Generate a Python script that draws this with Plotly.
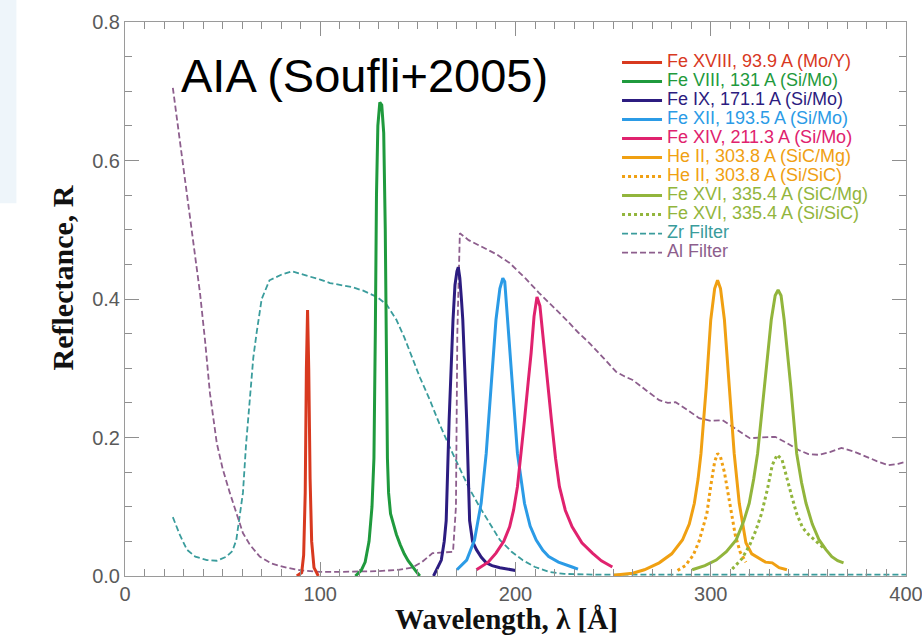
import plotly.graph_objects as go

# Multilayer mirror reflectance and filter transmission for the AIA channels
fe18_wl = [88, 90.5, 91.5, 92.3, 92.9, 93.5, 94.1, 94.8, 95.6, 96.8, 99]
fe18_r = [0, 0.005, 0.03, 0.12, 0.3, 0.384, 0.3, 0.14, 0.05, 0.012, 0]

fe8_wl = [118, 121, 123, 125, 126.5, 127.5, 128.2, 128.8, 129.5, 130.5, 131.5, 132.5,
          133.3, 133.9, 134.4, 135, 136, 137.5, 139, 141, 143, 145, 147, 149, 151]
fe8_r = [0, 0.008, 0.02, 0.05, 0.1, 0.17, 0.35, 0.55, 0.65, 0.684, 0.68, 0.64,
         0.5, 0.3, 0.17, 0.12, 0.09, 0.075, 0.06, 0.045, 0.032, 0.022, 0.014, 0.007, 0]

fe9_wl = [158, 160, 162, 163.5, 164.5, 166, 167, 168, 169, 170, 170.7, 171.5, 172.3,
          173, 174, 175, 176.5, 178, 180, 182.5, 185, 188, 192, 196, 200]
fe9_r = [0, 0.012, 0.023, 0.05, 0.08, 0.225, 0.3, 0.37, 0.42, 0.44, 0.446, 0.43, 0.4,
         0.37, 0.3, 0.225, 0.08, 0.05, 0.038, 0.027, 0.019, 0.015, 0.012, 0.01, 0.008]

fe12_wl = [170, 175, 179, 182.4, 185, 187.5, 190, 192, 193.5, 194.5, 196, 198.6, 201,
           204.6, 207.5, 210.6, 214, 217, 222, 229, 232]
fe12_r = [0.009, 0.023, 0.052, 0.105, 0.177, 0.273, 0.37, 0.415, 0.43, 0.425, 0.37,
          0.273, 0.177, 0.105, 0.072, 0.052, 0.037, 0.028, 0.02, 0.013, 0.01]

fe14_wl = [180, 186, 190, 194, 197, 199, 201, 203, 204.6, 206.5, 208, 209.5, 211, 212.5,
           214.8, 216.5, 218.4, 220.5, 222.5, 225.5, 229, 234, 239.4, 244, 249.6]
fe14_r = [0.009, 0.02, 0.033, 0.05, 0.071, 0.095, 0.129, 0.18, 0.225, 0.28, 0.322, 0.375,
          0.403, 0.39, 0.322, 0.27, 0.225, 0.17, 0.129, 0.095, 0.071, 0.048, 0.033, 0.022, 0.013]

he2_wl = [250, 255, 260, 266, 273.6, 280, 285.5, 289, 291.6, 293.5, 295, 297.7, 300, 302,
          303.5, 305, 307, 309.5, 312, 314.6, 318, 321, 325, 328, 331.5, 335, 339]
he2_r = [0.001, 0.002, 0.004, 0.009, 0.019, 0.032, 0.052, 0.075, 0.105, 0.14, 0.177, 0.273,
         0.37, 0.415, 0.427, 0.415, 0.37, 0.273, 0.177, 0.105, 0.048, 0.032, 0.025, 0.02,
         0.019, 0.012, 0.009]

he2b_wl = [283, 287, 291, 294, 296.5, 298, 300, 302, 303.5, 305, 307, 309, 310.5, 312.5, 315, 318]
he2b_r = [0.008, 0.015, 0.03, 0.05, 0.075, 0.09, 0.13, 0.165, 0.177, 0.172, 0.15, 0.115,
          0.09, 0.06, 0.035, 0.02]

fe16_wl = [290.5, 297, 302.8, 308, 313, 317, 319.7, 322, 324, 327.4, 331, 333, 334.5, 336,
           337.6, 341, 344, 346.5, 348.8, 352, 355.5, 359, 362, 365, 368]
fe16_r = [0.009, 0.015, 0.023, 0.035, 0.052, 0.08, 0.105, 0.14, 0.177, 0.273, 0.37, 0.405,
          0.413, 0.405, 0.37, 0.273, 0.177, 0.135, 0.105, 0.075, 0.052, 0.038, 0.028, 0.022, 0.019]

fe16b_wl = [311, 316, 320, 323, 326, 329, 331.5, 334, 336.5, 339, 341.5, 344, 347, 350, 354, 358]
fe16b_r = [0.01, 0.025, 0.045, 0.065, 0.09, 0.125, 0.16, 0.175, 0.168, 0.14, 0.115, 0.09,
           0.07, 0.06, 0.05, 0.04]

zr_wl = [24.5, 28, 31.7, 36, 42, 47, 52, 55, 57, 58.5, 60.4, 62, 64, 65.7, 67.4, 70, 74, 80,
         85.4, 92, 100, 105, 111, 116.6, 122, 129, 134, 139, 143, 147, 151, 156, 161, 166,
         171, 176, 181.6, 187, 192, 198, 203.6, 210, 217, 225, 240, 260, 300, 350, 400]
zr_r = [0.085, 0.06, 0.038, 0.028, 0.023, 0.022, 0.028, 0.036, 0.052, 0.08, 0.12, 0.19,
        0.264, 0.315, 0.351, 0.4, 0.427, 0.435, 0.44, 0.435, 0.428, 0.423, 0.42, 0.417,
        0.412, 0.403, 0.392, 0.37, 0.345, 0.315, 0.287, 0.255, 0.22, 0.188, 0.157, 0.128,
        0.1, 0.075, 0.052, 0.035, 0.023, 0.013, 0.006, 0.003, 0.002, 0.002, 0.002, 0.002, 0.002]

al_wl = [24.5, 28, 31.7, 35, 38.4, 41, 43.5, 47, 50, 53.7, 57, 60.4, 64, 69, 75, 82.8, 90,
         100, 110, 120, 130, 140, 147, 152, 157.5, 163, 168, 169.5, 170.2, 171.5, 176, 183,
         190, 197, 205, 212, 219, 226, 232, 238, 245, 251.5, 256, 260, 267, 273.6, 278, 282,
         288, 294, 300, 306, 313, 320, 326, 333, 339, 345, 350, 355.5, 361, 367, 373, 379.5,
         385, 391, 396, 400]
al_r = [0.705, 0.63, 0.553, 0.48, 0.409, 0.34, 0.264, 0.192, 0.155, 0.12, 0.09, 0.062,
        0.045, 0.028, 0.018, 0.012, 0.008, 0.006, 0.006, 0.006, 0.007, 0.009, 0.012, 0.02,
        0.033, 0.034, 0.035, 0.1, 0.35, 0.495, 0.485, 0.475, 0.465, 0.452, 0.43, 0.409,
        0.39, 0.37, 0.352, 0.336, 0.315, 0.295, 0.288, 0.283, 0.268, 0.254, 0.25, 0.251,
        0.24, 0.228, 0.224, 0.225, 0.212, 0.199, 0.2, 0.201, 0.192, 0.182, 0.176, 0.175,
        0.179, 0.185, 0.18, 0.172, 0.166, 0.16, 0.162, 0.165]

x_ticks = [0, 100, 200, 300, 400]
y_ticks = [0.0, 0.2, 0.4, 0.6, 0.8]
x_minor = list(range(0, 401, 10))
y_minor = [i * 0.05 for i in range(17)]

series = [
    ("Fe XVIII, 93.9 A (Mo/Y)", fe18_wl, fe18_r, "#d8391f", "solid", 3),
    ("Fe VIII, 131 A (Si/Mo)", fe8_wl, fe8_r, "#1f9a3d", "solid", 3),
    ("Fe IX, 171.1 A (Si/Mo)", fe9_wl, fe9_r, "#2c1c80", "solid", 3),
    ("Fe XII, 193.5 A (Si/Mo)", fe12_wl, fe12_r, "#2b9be6", "solid", 3),
    ("Fe XIV, 211.3 A (Si/Mo)", fe14_wl, fe14_r, "#e0226e", "solid", 3),
    ("He II, 303.8 A (SiC/Mg)", he2_wl, he2_r, "#f0a012", "solid", 3),
    ("He II, 303.8 A (Si/SiC)", he2b_wl, he2b_r, "#f0a012", "dot", 3),
    ("Fe XVI, 335.4 A (SiC/Mg)", fe16_wl, fe16_r, "#92b53c", "solid", 3),
    ("Fe XVI, 335.4 A (Si/SiC)", fe16b_wl, fe16b_r, "#92b53c", "dot", 3),
    ("Zr Filter", zr_wl, zr_r, "#3a9c9c", "6px,3px", 1.8),
    ("Al Filter", al_wl, al_r, "#8d5e8d", "6px,3px", 1.8),
]
legend_order = [s[0] for s in series]

fig = go.Figure()
# filters go underneath the mirror curves
for name, wl, r, color, dash, width in series[9:] + series[:9]:
    fig.add_trace(go.Scatter(
        x=wl, y=r, mode="lines", line=dict(color=color, dash=dash, width=width),
        name=f'<span style="color:{color};font-size:18px">{name}</span>',
        legendrank=legend_order.index(name),
    ))

tick_color = "#8f8f8f"
axis_common = dict(
    showgrid=False, zeroline=False, showline=True, linecolor="#9a9a9a", linewidth=1,
    mirror="ticks", ticks="inside", tickcolor=tick_color, ticklen=14, tickwidth=1.2,
    tickfont=dict(family="Liberation Sans", size=20, color="#5a5a5a"),
    ticklabeloverflow="allow", automargin=False,
)
minor_common = dict(ticks="inside", ticklen=7, tickcolor=tick_color, tickwidth=1)

fig.update_layout(
    template="none",
    width=922, height=635,
    margin=dict(l=125, r=16, t=22, b=59),
    paper_bgcolor="white", plot_bgcolor="white",
    showlegend=True,
    legend=dict(x=0.630, y=0.953, xanchor="left", yanchor="top", itemwidth=40,
                bgcolor="rgba(255,255,255,0)", font=dict(family="Liberation Sans", size=11),
                tracegroupgap=0),
    xaxis=dict(range=[0, 400], tickvals=x_ticks, ticktext=[str(v) for v in x_ticks],
               minor=dict(tickvals=x_minor, **minor_common), **axis_common),
    yaxis=dict(range=[0, 0.8], tickvals=y_ticks, ticktext=[f"{v:.1f}" for v in y_ticks],
               minor=dict(tickvals=y_minor, **minor_common), **axis_common),
    shapes=[dict(type="rect", xref="paper", yref="paper", x0=-0.161, x1=-0.139,
                 y0=0.673, y1=1.05, fillcolor="#eef5fa", line=dict(width=0), layer="below")],
    annotations=[
        dict(text="AIA (Soufli+2005)", xref="paper", yref="paper", x=0.307, y=0.904,
             xanchor="center", yanchor="middle", showarrow=False,
             font=dict(family="Liberation Sans", size=47, color="black")),
        dict(text="<b>Reflectance, R</b>", xref="paper", yref="paper", x=-0.080, y=0.538,
             xanchor="center", yanchor="middle", textangle=-90, showarrow=False,
             font=dict(family="Liberation Serif", size=30, color="#111")),
        dict(text="<b>Wavelength, λ [Å]</b>", xref="paper", yref="paper", x=0.488, y=-0.110,
             xanchor="center", yanchor="bottom", showarrow=False,
             font=dict(family="Liberation Serif", size=29, color="#111")),
    ],
)

fig.write_html("out.html")
